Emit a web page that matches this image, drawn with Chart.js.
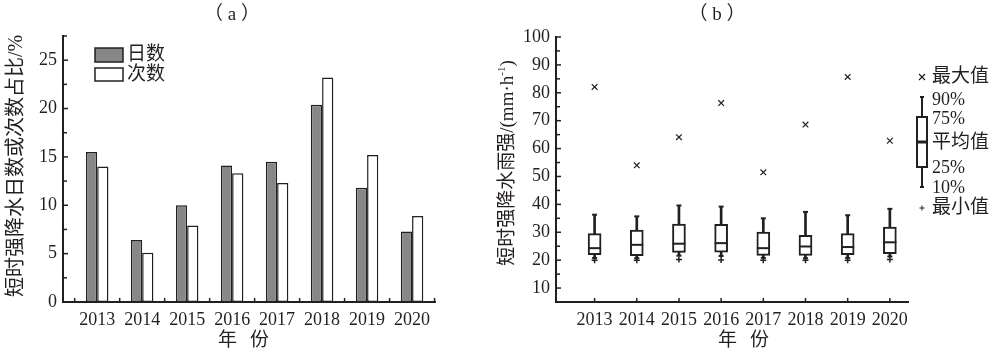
<!DOCTYPE html>
<html>
<head>
<meta charset="utf-8">
<script src="https://cdn.jsdelivr.net/npm/chart.js@4.4.1/dist/chart.umd.min.js"></script>
<style>
  body { margin: 0; background: #fff; }
  #wrapA { position: absolute; left: 0; top: 0; width: 480px; height: 353px; }
  #wrapB { position: absolute; left: 480px; top: 0; width: 520px; height: 353px; }
</style>
</head>
<body>
<div id="wrapA"><canvas id="chartA" width="480" height="353"></canvas></div>
<div id="wrapB"><canvas id="chartB" width="520" height="353"></canvas></div>
<script>
// 年份
const years = [2013, 2014, 2015, 2016, 2017, 2018, 2019, 2020];

// (a) 短时强降水日数、次数占比 /%
const dayShare   = [15.5, 6.4, 10.0, 14.1, 14.5, 20.4, 11.8, 7.3];
const countShare = [14.0, 5.1,  7.9, 13.3, 12.3, 23.2, 15.2, 8.9];

// (b) 短时强降水雨强 /(mm·h-1)
const rainMax  = [82.1, 54.0, 64.1, 76.3, 51.5, 68.6, 85.7, 62.8];
const rainP90  = [36.3, 35.7, 39.6, 39.2, 35.0, 37.3, 36.1, 38.4];
const rainP75  = [29.5, 30.8, 32.9, 32.8, 30.1, 28.9, 29.5, 31.9];
const rainMean = [24.3, 25.5, 25.9, 26.1, 24.3, 24.9, 24.7, 26.4];
const rainP25  = [22.0, 21.6, 22.8, 22.9, 21.7, 21.7, 22.0, 22.3];
const rainP10  = [20.8, 20.7, 21.6, 21.5, 20.8, 20.7, 20.8, 21.3];
const rainMin  = [20.0, 20.0, 20.2, 20.1, 20.0, 20.0, 20.0, 20.2];

const INK = '#231f20';
const SERIF = '"Liberation Serif", "Noto Sans CJK SC"';

Chart.defaults.font.family = SERIF;
Chart.defaults.color = INK;

const pts = arr => years.map((y, i) => ({ x: y, y: arr[i] }));
const range = (lo, hi) => years.map((y, i) => ({ x: y, y: [lo[i], hi[i]] }));

// 竖排标题（可带上标），以 (0,0) 为中心
function drawYTitle(ctx, parts, size) {
  const widths = parts.map(p => {
    ctx.font = (p.sup ? Math.round(size * 0.6) : size) + 'px ' + SERIF;
    return ctx.measureText(p.text).width;
  });
  let x = -widths.reduce((a, b) => a + b, 0) / 2;
  ctx.textAlign = 'left';
  parts.forEach((p, i) => {
    ctx.font = (p.sup ? Math.round(size * 0.6) : size) + 'px ' + SERIF;
    ctx.fillText(p.text, x, p.sup ? -Math.round(size * 0.32) : 0);
    x += widths[i];
  });
}

// 坐标轴内侧刻度 + 标题文字
function decor(cfg) {
  return {
    id: 'decor',
    afterDraw(chart) {
      const { ctx, chartArea } = chart;
      const xs = chart.scales.x, ys = chart.scales.y;
      ctx.save();
      ctx.strokeStyle = INK;
      ctx.lineWidth = 1.5;
      cfg.xTicks.forEach(v => {
        const px = xs.getPixelForValue(v);
        ctx.beginPath();
        ctx.moveTo(px, chartArea.bottom);
        ctx.lineTo(px, chartArea.bottom - 4);
        ctx.stroke();
      });
      ys.ticks.forEach(t => {
        const py = ys.getPixelForValue(t.value);
        const len = t.label !== '' ? 5 : 4;
        ctx.beginPath();
        ctx.moveTo(chartArea.left, py);
        ctx.lineTo(chartArea.left + len, py);
        ctx.stroke();
      });

      ctx.fillStyle = INK;
      ctx.textAlign = 'left';
      ctx.textBaseline = 'middle';
      ctx.font = '19px ' + SERIF;
      const w = ctx.measureText(cfg.title).width;
      ctx.fillText(cfg.title, cfg.titleX - w / 2, 15);
      ctx.fillText('年', cfg.xTitleX - 25, 341);
      ctx.fillText('份', cfg.xTitleX + 7, 341);

      ctx.translate(cfg.yTitleX, cfg.yTitleY);
      ctx.rotate(-Math.PI / 2);
      drawYTitle(ctx, cfg.yTitle, cfg.yTitleSize);
      ctx.restore();
      if (cfg.legend) cfg.legend(ctx);
    }
  };
}

// ---------- (a) ----------
new Chart(document.getElementById('chartA'), {
  type: 'bar',
  data: {
    datasets: [
      { label: '日数', data: pts(dayShare), backgroundColor: '#878787', borderColor: INK, borderWidth: 1.5 },
      { label: '次数', data: pts(countShare), backgroundColor: '#ffffff', borderColor: INK, borderWidth: 1.5 }
    ]
  },
  options: {
    responsive: false,
    animation: false,
    devicePixelRatio: 1,
    events: [],
    layout: { padding: { left: 0, top: 36, right: 45, bottom: 0 } },
    datasets: { bar: { barPercentage: 1, categoryPercentage: 0.5, borderSkipped: false } },
    plugins: { legend: { display: false }, tooltip: { enabled: false } },
    scales: {
      x: {
        type: 'linear', min: 2012.24, max: 2020.51, offset: false,
        afterBuildTicks: s => { s.ticks = years.map(v => ({ value: v })); },
        afterFit: s => { s.height = 51; },
        grid: { display: false, drawTicks: false, offset: false },
        border: { color: INK, width: 2 },
        ticks: { padding: 7, font: { size: 18 }, color: INK, autoSkip: false, maxRotation: 0,
                 callback: v => String(v) }
      },
      y: {
        min: 0, max: 27.5,
        afterFit: s => { s.width = 63; },
        grid: { display: false, drawTicks: false },
        border: { color: INK, width: 2 },
        ticks: { stepSize: 2.5, padding: 6, font: { size: 18 }, color: INK, autoSkip: false,
                 callback: v => (v % 5 === 0 ? String(v) : '') }
      }
    }
  },
  plugins: [decor({
    xTicks: years.map(y => y - 0.5).concat([years[years.length - 1] + 0.5]),
    title: '（ a ）', titleX: 232,
    xTitleX: 243,
    yTitle: [{ text: '短时强降水日数或次数占比/%' }],
    yTitleX: 17, yTitleY: 166, yTitleSize: 20,
    legend(ctx) {
      ctx.save();
      ctx.lineWidth = 1.5;
      ctx.strokeStyle = INK;
      ctx.fillStyle = '#878787';
      ctx.fillRect(95, 48, 28, 14); ctx.strokeRect(95, 48, 28, 14);
      ctx.fillStyle = '#ffffff';
      ctx.fillRect(95, 68, 28, 13); ctx.strokeRect(95, 68, 28, 13);
      ctx.fillStyle = INK;
      ctx.font = '19px ' + SERIF;
      ctx.textAlign = 'left';
      ctx.textBaseline = 'middle';
      ctx.fillText('日数', 127, 55);
      ctx.fillText('次数', 127, 75);
      ctx.restore();
    }
  })]
});

// ---------- (b) ----------
new Chart(document.getElementById('chartB'), {
  type: 'bar',
  data: {
    datasets: [
      { type: 'line', label: '最大值', data: pts(rainMax), showLine: false, order: 0,
        pointStyle: 'crossRot', pointRadius: 4, pointBorderWidth: 1.2, borderColor: INK, backgroundColor: INK },
      { type: 'line', label: '最小值', data: pts(rainMin), showLine: false, order: 0,
        pointStyle: 'cross', pointRadius: 3, pointBorderWidth: 1.5, borderColor: INK, backgroundColor: INK },
      { type: 'line', label: '平均值', data: pts(rainMean), showLine: false, order: 1,
        pointStyle: 'line', pointRadius: 6.5, pointBorderWidth: 2, borderColor: INK },
      { type: 'line', label: '90%', data: pts(rainP90), showLine: false, order: 1,
        pointStyle: 'line', pointRadius: 2.5, pointBorderWidth: 2, borderColor: INK },
      { type: 'line', label: '10%', data: pts(rainP10), showLine: false, order: 1,
        pointStyle: 'line', pointRadius: 2.5, pointBorderWidth: 2, borderColor: INK },
      { label: '25%-75%', data: range(rainP25, rainP75), order: 2, grouped: false,
        barThickness: 13, backgroundColor: '#ffffff', borderColor: INK, borderWidth: 2, borderSkipped: false },
      { label: '10%-90%', data: range(rainP10, rainP90), order: 3, grouped: false,
        barThickness: 2, backgroundColor: INK, borderWidth: 0 }
    ]
  },
  options: {
    responsive: false,
    animation: false,
    devicePixelRatio: 1,
    events: [],
    layout: { padding: { left: 0, top: 37, right: 92, bottom: 0 } },
    plugins: { legend: { display: false }, tooltip: { enabled: false } },
    scales: {
      x: {
        type: 'linear', min: 2012.085, max: 2020.43, offset: false,
        afterBuildTicks: s => { s.ticks = years.map(v => ({ value: v })); },
        afterFit: s => { s.height = 51; },
        grid: { display: false, drawTicks: false, offset: false },
        border: { color: INK, width: 2 },
        ticks: { padding: 7, font: { size: 18 }, color: INK, autoSkip: false, maxRotation: 0,
                 callback: v => String(v) }
      },
      y: {
        min: 5, max: 100,
        afterFit: s => { s.width = 76; },
        grid: { display: false, drawTicks: false },
        border: { color: INK, width: 2 },
        ticks: { stepSize: 5, padding: 6, font: { size: 18 }, color: INK, autoSkip: false,
                 callback: v => (v % 10 === 0 ? String(v) : '') }
      }
    }
  },
  plugins: [decor({
    xTicks: years,
    title: '（ b ）', titleX: 237,
    xTitleX: 263,
    yTitle: [{ text: '短时强降水雨强/(mm·h' }, { text: '-1', sup: true }, { text: ')' }],
    yTitleX: 28, yTitleY: 163, yTitleSize: 19,
    legend(ctx) {
      const cx = 442;
      ctx.save();
      ctx.strokeStyle = INK;
      ctx.fillStyle = INK;
      // × 最大值
      ctx.lineWidth = 1.2;
      ctx.beginPath();
      ctx.moveTo(cx - 3, 74); ctx.lineTo(cx + 3, 80);
      ctx.moveTo(cx + 3, 74); ctx.lineTo(cx - 3, 80);
      ctx.stroke();
      // 箱线示意
      ctx.lineWidth = 2;
      ctx.beginPath(); ctx.moveTo(cx, 97); ctx.lineTo(cx, 187); ctx.stroke();
      ctx.beginPath(); ctx.moveTo(cx - 2, 97); ctx.lineTo(cx + 2, 97);
      ctx.moveTo(cx - 2, 187); ctx.lineTo(cx + 2, 187); ctx.stroke();
      ctx.fillStyle = '#ffffff';
      ctx.fillRect(cx - 5, 117, 10, 50);
      ctx.strokeRect(cx - 5, 117, 10, 50);
      ctx.lineWidth = 3;
      ctx.beginPath(); ctx.moveTo(cx - 5, 142); ctx.lineTo(cx + 5, 142); ctx.stroke();
      // + 最小值
      ctx.lineWidth = 1;
      ctx.beginPath();
      ctx.moveTo(cx - 2.5, 208); ctx.lineTo(cx + 2.5, 208);
      ctx.moveTo(cx, 205.5); ctx.lineTo(cx, 210.5);
      ctx.stroke();

      ctx.fillStyle = INK;
      ctx.textAlign = 'left';
      ctx.textBaseline = 'middle';
      ctx.font = '19px ' + SERIF;
      ctx.fillText('最大值', 452, 77);
      ctx.fillText('平均值', 452, 143);
      ctx.fillText('最小值', 452, 208);
      ctx.font = '18px ' + SERIF;
      ctx.fillText('90%', 452, 100);
      ctx.fillText('75%', 452, 119);
      ctx.fillText('25%', 452, 168);
      ctx.fillText('10%', 452, 188);
      ctx.restore();
    }
  })]
});
</script>
</body>
</html>
